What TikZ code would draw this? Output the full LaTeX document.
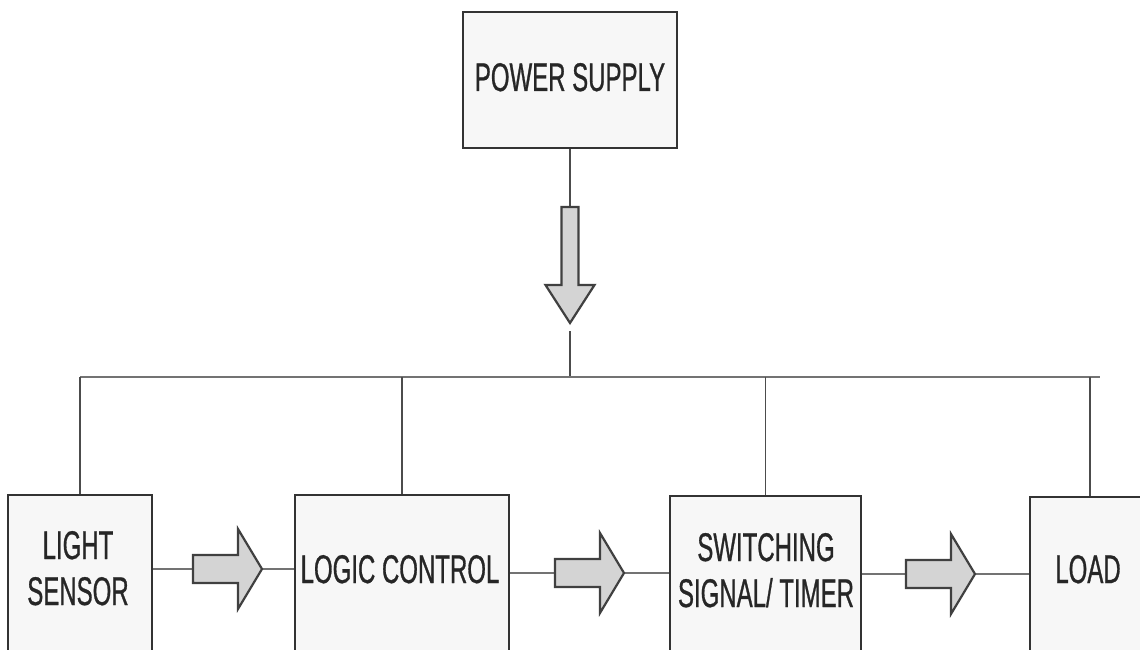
\documentclass[tikz,border=0pt]{standalone}
\usepackage{fontspec}
\setmainfont{Liberation Sans}[FakeStretch=0.6]
\newfontfamily\lblfont{Liberation Sans}[FakeStretch=0.6, FakeBold=0.7]
\begin{document}
\begin{tikzpicture}[x=1pt,y=-1pt,
  box/.style={draw=black!80, line width=2.2pt, fill=black!3, inner sep=0pt},
  lbl/.style={font=\lblfont\fontsize{40}{46}\selectfont, text=black!85, align=center, inner sep=0pt},
  wire/.style={draw=black!55, line width=1.6pt},
  thin wire/.style={draw=black!70, line width=1.2pt},
  barrowstyle/.style={draw=black!75, line width=2.2pt, fill=black!17, line join=miter},
  pics/blockarrow/.style={code={
    \draw[barrowstyle] (0,-14)--(45,-14)--(45,-40)--(69,0)--(45,40)--(45,14)--(0,14)--cycle;}}]
\useasboundingbox (0,0) rectangle (1140,650);
\clip (0,0) rectangle (1140,650);

% power supply
\node[box, minimum width=214pt, minimum height=136pt] (ps) at (570,80) {};
\node[lbl, anchor=base] (psT) at (570,91) {POWER SUPPLY};

% bottom boxes
\node[box, minimum width=214pt, minimum height=200pt, anchor=north] (lc) at (402,494) {};
\node[box, minimum width=144pt, minimum height=200pt, anchor=north] (ls) at (80,494) {};
\node[box, minimum width=191pt, minimum height=200pt, anchor=north] (sw) at (765.5,495) {};
\node[box, minimum width=140pt, minimum height=200pt, anchor=north] (ld) at (1100,496) {};

\node[lbl, anchor=base] (lsT) at (78,605) {LIGHT\\SENSOR};
\node[lbl, anchor=base] (lcT) at (400,583) {LOGIC CONTROL};
\node[lbl, anchor=base] (swT) at (766,607) {SWITCHING\\SIGNAL/ TIMER};
\node[lbl, anchor=base] (ldT) at (1088,583) {LOAD};

% vertical power arrow
\coordinate (pat) at (570,207);
\coordinate (pab) at (570,331);
\draw[thin wire] (ps.south) -- (pat);
\draw[barrowstyle] (561.5,207) -- (578.5,207) -- (578.5,285) -- (594.5,285) -- (570,323)
  -- (545.5,285) -- (561.5,285) -- cycle;

% bus
\coordinate (bl) at (78,377);
\coordinate (br) at (1100,377);
\coordinate (bm) at (570,377);
\draw[thin wire] (pab) -- (bm);
\draw[wire] (bl -| ls.north) -- (br);
\draw[thin wire] (ls.north) -- (ls.north |- bl);
\draw[thin wire] (lc.north) -- (lc.north |- bl);
\draw[thin wire] (sw.north) -- (sw.north |- bl);
\draw[thin wire] (1090,377) -- (ld.north -| 1090,0);

% horizontal arrows
\coordinate (a1t) at (193,569);
\coordinate (a1h) at (262,569);
\coordinate (a2t) at (555,573);
\coordinate (a2h) at (624,573);
\coordinate (a3t) at (906,574);
\coordinate (a3h) at (975,574);
\draw[wire] (ls.east |- a1t) -- (a1t);
\draw[wire] (a1h) -- (lc.west |- a1h);
\draw[wire] (lc.east |- a2t) -- (a2t);
\draw[wire] (a2h) -- (sw.west |- a2h);
\draw[wire] (sw.east |- a3t) -- (a3t);
\draw[wire] (a3h) -- (ld.west |- a3h);
\pic at (a1t) {blockarrow};
\pic at (a2t) {blockarrow};
\pic at (a3t) {blockarrow};
\end{tikzpicture}
\end{document}
